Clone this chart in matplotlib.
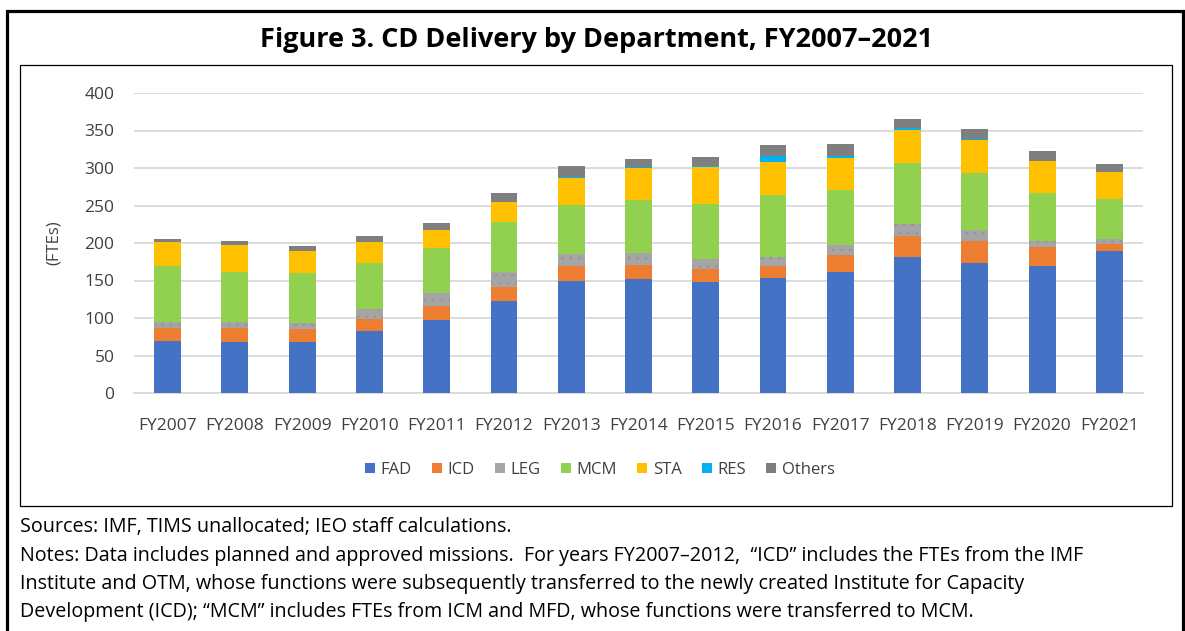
import matplotlib
matplotlib.use("Agg")

import matplotlib.pyplot as plt
from matplotlib.patches import Rectangle
from matplotlib.lines import Line2D
import numpy as np

years = ["FY2007", "FY2008", "FY2009", "FY2010", "FY2011", "FY2012", "FY2013",
         "FY2014", "FY2015", "FY2016", "FY2017", "FY2018", "FY2019", "FY2020", "FY2021"]

fad = [70, 68, 68, 83, 97, 123, 150, 152, 148, 153, 162, 182, 174, 169, 189]
icd = [17, 19, 17, 16, 19, 19, 19, 19, 17, 17, 22, 28, 29, 26, 10]
leg = [8, 8, 8, 13, 17, 19, 16, 16, 14, 12, 13, 16, 14, 8, 7]
mcm = [74, 67, 67, 62, 60, 67, 66, 70, 73, 82, 74, 81, 76, 64, 53]
sta = [32, 36, 29, 27, 24, 27, 36, 43, 49, 44, 43, 44, 44, 43, 36]
res = [0, 0, 0, 0, 0, 0, 1.3, 1.8, 1.8, 8.4, 2.2, 1.8, 2.2, 0, 0]
others = [5, 5, 7, 9, 10, 12, 14, 10, 12, 14, 16, 13, 13, 13, 10]

series = [
    ("FAD", fad, "#4472C4"),
    ("ICD", icd, "#ED7D31"),
    ("LEG", leg, "#A5A5A5"),
    ("MCM", mcm, "#92D050"),
    ("STA", sta, "#FFC000"),
    ("RES", res, "#00B0F0"),
    ("Others", others, "#7F7F7F"),
]

W, H = 1185, 631
plt.rcParams["font.family"] = ["Open Sans", "DejaVu Sans"]
plt.rcParams["hatch.color"] = "#959595"
plt.rcParams["hatch.linewidth"] = 0.7

fig = plt.figure(figsize=(W / 100, H / 100), dpi=100)


def fx(px):
    return px / W


def fy(py):
    return 1 - py / H


# frames
fig.add_artist(Line2D([fx(6.5), fx(6.5), fx(1183), fx(1183)],
                      [fy(640), fy(10.5), fy(10.5), fy(640)],
                      transform=fig.transFigure, color="black", lw=2.3,
                      solid_joinstyle="miter"))
fig.add_artist(Rectangle((fx(20), fy(506)), fx(1172) - fx(20), fy(65) - fy(506),
                         transform=fig.transFigure, fill=False,
                         edgecolor="black", lw=0.9))

fig.text(fx(597), fy(40), "Figure 3. CD Delivery by Department, FY2007\u20132021",
         ha="center", va="center", fontsize=19.5, fontweight="bold")

ax = fig.add_axes([fx(134), fy(393), fx(1143) - fx(134), fy(93) - fy(393)])

x = np.arange(len(years))
bottom = np.zeros(len(years))
handles = []
for name, vals, color in series:
    vals = np.array(vals, dtype=float)
    kw = {}
    if name == "LEG":
        kw["hatch"] = ".."
    ax.bar(x, vals, width=0.4, bottom=bottom, color=color, label=name,
           linewidth=0, zorder=3, **kw)
    handles.append(Rectangle((0, 0), 1, 1, facecolor=color, linewidth=0))
    bottom += vals

ax.set_xlim(-0.5, len(years) - 0.5)
ax.set_ylim(0, 400)
ax.set_yticks(range(0, 401, 50))
ax.set_xticks(x)
ax.set_xticklabels(years)
ax.yaxis.grid(True, color="#D9D9D9", lw=1.3, zorder=0)
ax.set_axisbelow(True)
for s in ["top", "right", "left"]:
    ax.spines[s].set_visible(False)
ax.spines["bottom"].set_color("#D9D9D9")
ax.spines["bottom"].set_linewidth(1.3)
ax.tick_params(axis="both", length=0, labelsize=12.5, colors="#404040")
ax.tick_params(axis="y", pad=14)
ax.tick_params(axis="x", pad=18)
ax.set_ylabel("(FTEs)", fontsize=12, color="#404040", labelpad=16)

fig.legend(handles, [s[0] for s in series], loc="center",
           bbox_to_anchor=(fx(600), fy(470)), ncol=7, frameon=False,
           fontsize=12, handlelength=0.6, handleheight=0.6,
           handletextpad=0.35, columnspacing=1.2, labelcolor="#404040")

fig.text(fx(20), fy(527), "Sources: IMF, TIMS unallocated; IEO staff calculations.",
         ha="left", va="center", fontsize=14.2)
notes = [
    "Notes: Data includes planned and approved missions.  For years FY2007\u20132012,  \u201cICD\u201d includes the FTEs from the IMF",
    "Institute and OTM, whose functions were subsequently transferred to the newly created Institute for Capacity",
    "Development (ICD); \u201cMCM\u201d includes FTEs from ICM and MFD, whose functions were transferred to MCM.",
]
for i, line in enumerate(notes):
    fig.text(fx(20), fy(556 + 28 * i), line, ha="left", va="center", fontsize=14.2)

fig.savefig("out.png", dpi=100)
